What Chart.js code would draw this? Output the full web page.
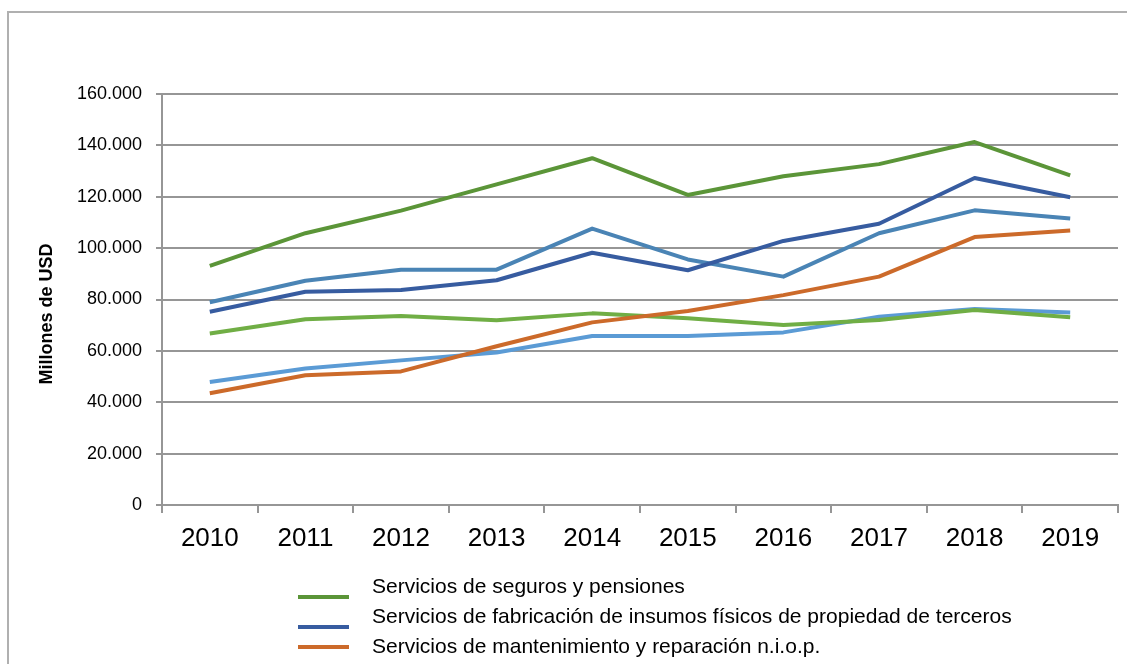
<!DOCTYPE html>
<html>
<head>
<meta charset="utf-8">
<script src="https://cdn.jsdelivr.net/npm/chart.js@4.4.1/dist/chart.umd.min.js"></script>
<style>
  html, body { margin: 0; padding: 0; background: #fff; overflow: hidden; }
  #wrap { position: relative; width: 1127px; height: 664px; overflow: hidden; }
  #frame { position: absolute; left: 7px; top: 11px; width: 1300px; height: 900px; border: 2px solid #b0b0b0; }
  #myChart { position: absolute; left: 0; top: 0; }
</style>
</head>
<body>
<div id="wrap">
  <div id="frame"></div>
  <canvas id="myChart" width="1127" height="664"></canvas>
</div>
<script>
const years = ['2010', '2011', '2012', '2013', '2014', '2015', '2016', '2017', '2018', '2019'];

// Millones de USD
const seguros = [93100, 105800, 114600, 124800, 135000, 120700, 128000, 132700, 141300, 128300];
const fabricacion = [75200, 83000, 83700, 87500, 98200, 91400, 102800, 109500, 127300, 119800];
const mantenimiento = [43500, 50500, 52000, 61800, 71100, 75500, 81700, 88900, 104300, 106900];
// las otras tres series (su leyenda queda fuera de la imagen)
const serie4 = [78900, 87300, 91600, 91600, 107600, 95600, 88900, 105800, 114700, 111500];
const serie5 = [66800, 72300, 73600, 71900, 74600, 72700, 70100, 72000, 75900, 73100];
const serie6 = [47900, 53100, 56300, 59400, 65800, 65800, 67200, 73300, 76300, 74900];

const yTicks = [0, 20000, 40000, 60000, 80000, 100000, 120000, 140000, 160000];
const yTitle = 'Millones de USD';

const FONT = '"Liberation Sans", Arial, sans-serif';
const GRID = '#969696';

// titulo del eje y + leyenda vertical como en Excel
const overlay = {
    id: 'overlay',
    afterDraw(chart) {
        const ctx = chart.ctx;
        ctx.save();
        ctx.translate(47, 314);
        ctx.rotate(-Math.PI / 2);
        ctx.font = 'bold 18px ' + FONT;
        ctx.fillStyle = '#000';
        ctx.textAlign = 'center';
        ctx.textBaseline = 'middle';
        ctx.fillText(yTitle, 0, 0);
        ctx.restore();

        const shift = [10, 10, 0];
        ctx.save();
        ctx.font = '21px ' + FONT;
        ctx.textBaseline = 'middle';
        ctx.fillStyle = '#000';
        chart.data.datasets.forEach((ds, i) => {
            const y = 587 + i * 30;
            if (y > chart.height) return;
            ctx.strokeStyle = ds.borderColor;
            ctx.lineWidth = 4;
            ctx.beginPath();
            ctx.moveTo(298, y + (shift[i] || 0));
            ctx.lineTo(349, y + (shift[i] || 0));
            ctx.stroke();
            ctx.fillText(ds.label, 372, y);
        });
        ctx.restore();
    }
};

const lineStyle = {
    borderWidth: 4,
    pointRadius: 0,
    pointHoverRadius: 0,
    tension: 0,
    borderJoinStyle: 'round',
    fill: false
};

const ctx = document.getElementById('myChart').getContext('2d');
const myChart = new Chart(ctx, {
    type: 'line',
    data: {
        labels: years,
        datasets: [
            { label: 'Servicios de seguros y pensiones', data: seguros, borderColor: '#5B9538', ...lineStyle },
            { label: 'Servicios de fabricación de insumos físicos de propiedad de terceros', data: fabricacion, borderColor: '#375CA0', ...lineStyle },
            { label: 'Servicios de mantenimiento y reparación n.i.o.p.', data: mantenimiento, borderColor: '#CC6A2A', ...lineStyle },
            { label: 'Serie 4', data: serie4, borderColor: '#4A84B5', ...lineStyle },
            { label: 'Serie 5', data: serie5, borderColor: '#70AE45', ...lineStyle },
            { label: 'Serie 6', data: serie6, borderColor: '#5B9BD5', ...lineStyle }
        ]
    },
    options: {
        responsive: false,
        animation: false,
        layout: {
            padding: { left: 0, top: 94, right: 9, bottom: 109 }
        },
        plugins: {
            legend: { display: false },
            tooltip: { enabled: false }
        },
        scales: {
            x: {
                offset: true,
                grid: {
                    offset: true,
                    drawOnChartArea: false,
                    color: GRID,
                    lineWidth: 2,
                    tickLength: 8
                },
                border: { color: GRID, width: 2 },
                ticks: {
                    color: '#000',
                    padding: 10,
                    maxRotation: 0,
                    font: { family: FONT, size: 26 }
                },
                afterFit: scale => { scale.height = 50; }
            },
            y: {
                min: yTicks[0],
                max: yTicks[yTicks.length - 1],
                grid: {
                    color: GRID,
                    lineWidth: 2,
                    tickLength: 6
                },
                border: { color: GRID, width: 2 },
                ticks: {
                    stepSize: yTicks[1] - yTicks[0],
                    color: '#000',
                    padding: 14,
                    font: { family: FONT, size: 18 },
                    callback: value => value.toLocaleString('de-DE')
                },
                afterFit: scale => { scale.width = 162; }
            }
        }
    },
    plugins: [overlay]
});
</script>
</body>
</html>
